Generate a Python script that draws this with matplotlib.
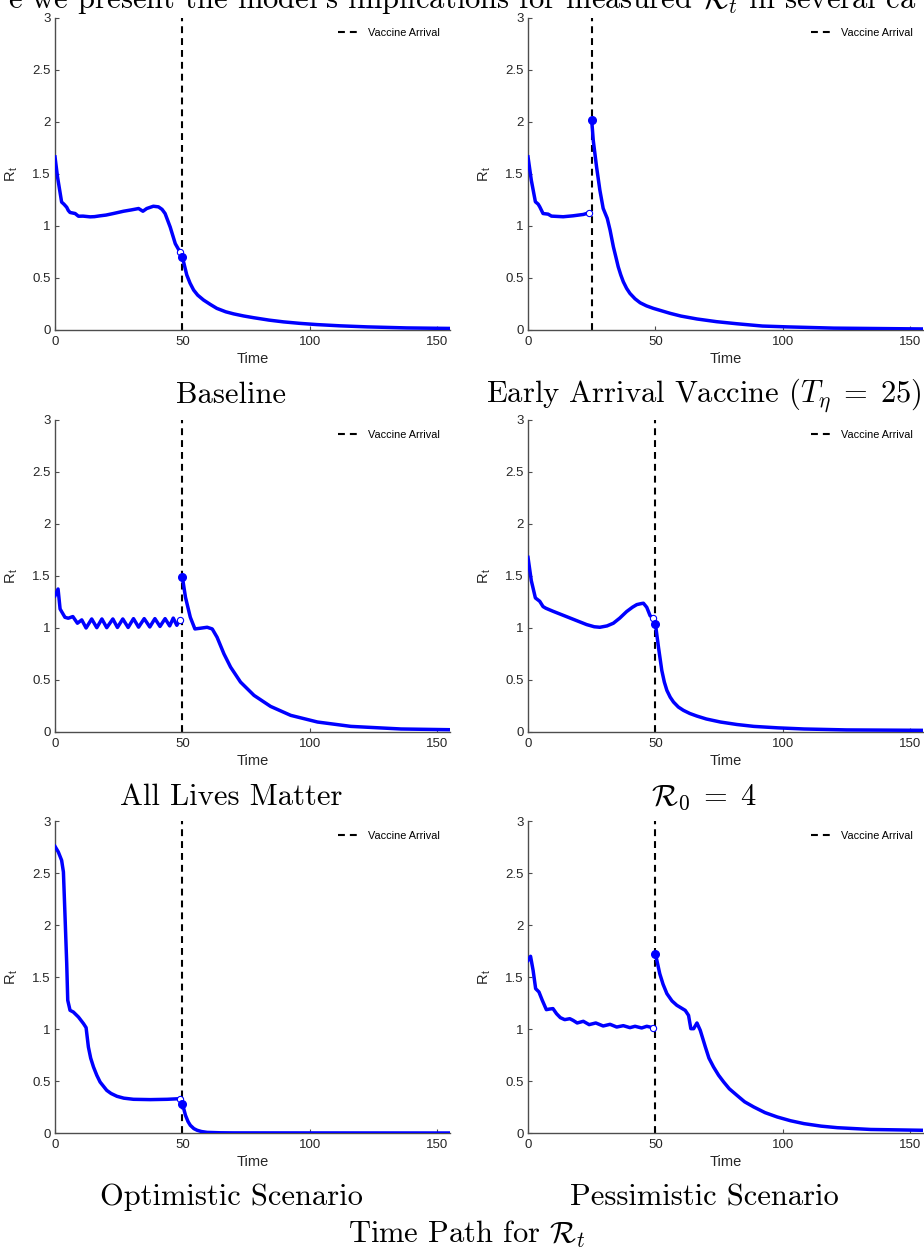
import matplotlib
matplotlib.use("Agg")
import matplotlib.pyplot as plt

plt.rcParams["font.family"] = ["Liberation Sans", "DejaVu Sans"]
plt.rcParams["mathtext.fontset"] = "cm"

# axis ticks
x_ticks = [0, 50, 100, 150]
x_ticklabels = ["0", "50", "100", "150"]
y_ticks = [0, 0.5, 1, 1.5, 2, 2.5, 3]
y_ticklabels = ["0", "0.5", "1", "1.5", "2", "2.5", "3"]

captions = ["Baseline", r"Early Arrival Vaccine ($T_\eta\;=\;25$)", "All Lives Matter",
            r"$\mathcal{R}_0\;=\;4$", "Optimistic Scenario", "Pessimistic Scenario"]
vaccine_arrival = [50, 25, 50, 50, 50, 50]

# Baseline
base_t_pre = [0, 1, 2.6, 3.5, 4.6, 5.2, 5.9, 7.9, 9.2, 11, 13.8, 15.5, 17.7, 20, 22.9, 26.9,
              30, 32.8, 34.5, 36, 38.6, 40.6, 42, 43.2, 45.2, 47.2, 49]
base_r_pre = [1.664, 1.47, 1.23, 1.21, 1.18, 1.15, 1.13, 1.12, 1.094, 1.095, 1.088, 1.09, 1.098,
              1.105, 1.12, 1.142, 1.155, 1.168, 1.142, 1.168, 1.19, 1.184, 1.16, 1.12, 0.99, 0.83, 0.752]
base_t_post = [50, 51.7, 53, 54.4, 56, 58.3, 61, 63.5, 67, 70.1, 74, 78, 84, 89.7, 96, 102.8,
               112, 122.5, 138, 155]
base_r_post = [0.70, 0.53, 0.45, 0.384, 0.335, 0.288, 0.245, 0.208, 0.175, 0.155, 0.135, 0.118,
               0.095, 0.078, 0.064, 0.052, 0.04, 0.03, 0.02, 0.015]

# Early arrival vaccine
early_t_pre = [0, 1.3, 2.9, 4.0, 4.6, 5.9, 7.9, 9.2, 11.5, 13.8, 17.7, 21.7, 24]
early_r_pre = [1.665, 1.44, 1.233, 1.21, 1.185, 1.12, 1.114, 1.095, 1.092, 1.089, 1.098, 1.111, 1.127]
early_t_post = [25, 25.6, 26.9, 28.2, 29.5, 31.1, 32.2, 33.5, 34.5, 35.4, 36.4, 37.4, 38.7, 40, 42,
                44, 46.5, 49.2, 55.8, 60, 66.3, 74, 82, 92, 101.7, 120, 155]
early_r_post = [2.017, 1.825, 1.569, 1.345, 1.169, 1.073, 0.961, 0.80, 0.70, 0.608, 0.53, 0.464,
                0.40, 0.352, 0.30, 0.262, 0.232, 0.208, 0.16, 0.134, 0.106, 0.08, 0.06, 0.038,
                0.03, 0.018, 0.01]

# All lives matter
alm_t_pre = [0, 1.2, 2.0, 3.9, 5.2, 7.0, 8.8, 10.5, 12.2, 14.4, 16.4, 18.4, 20.3, 22.7, 24.5, 26.6,
             28.7, 30.8, 32.8, 35.0, 37.2, 39.2, 41.2, 43.2, 45.0, 46.4, 47.8, 49]
alm_r_pre = [1.31, 1.375, 1.183, 1.103, 1.094, 1.11, 1.046, 1.078, 1.0, 1.087, 1.003, 1.087, 1.003,
             1.087, 1.005, 1.087, 1.005, 1.09, 1.008, 1.09, 1.01, 1.09, 1.015, 1.09, 1.02, 1.095,
             1.026, 1.078]
alm_t_post = [50, 51.2, 53.1, 54.9, 57.1, 59.7, 61.7, 63.6, 66.3, 68.9, 72.8, 78.1, 84.6, 92.5,
              103, 116.1, 135.8, 155]
alm_r_post = [1.487, 1.295, 1.103, 0.991, 0.998, 1.007, 0.991, 0.911, 0.751, 0.624, 0.48, 0.352,
              0.246, 0.16, 0.096, 0.054, 0.029, 0.022]

# R0 = 4
r04_t_pre = [0, 1.3, 2.9, 4.6, 5.9, 7, 9.8, 13, 16.4, 20, 23, 26, 28.2, 31, 33.5, 36, 38.7, 41,
             42.7, 44.5, 45.3, 46.6, 47.9, 49]
r04_r_pre = [1.679, 1.455, 1.289, 1.257, 1.206, 1.19, 1.161, 1.13, 1.097, 1.062, 1.033, 1.012,
             1.007, 1.02, 1.046, 1.095, 1.158, 1.2, 1.225, 1.235, 1.238, 1.199, 1.119, 1.094]
r04_t_post = [50, 51.2, 52.5, 53.5, 54.5, 55.8, 57.1, 59, 61, 63.5, 66.3, 70, 75.5, 82, 88.6, 98,
              108.3, 125, 155]
r04_r_post = [1.039, 0.815, 0.592, 0.48, 0.40, 0.335, 0.288, 0.24, 0.208, 0.178, 0.153, 0.125,
              0.096, 0.072, 0.054, 0.04, 0.029, 0.02, 0.016]

# Optimistic
opt_t_pre = [0, 1.3, 2.6, 3.3, 3.9, 4.6, 5.0, 5.9, 7.2, 9.2, 11.2, 12.2, 13.1, 14, 15.1, 16.4,
             17.7, 20.3, 22, 24.3, 27, 30.8, 37.4, 44, 49]
opt_r_pre = [2.756, 2.702, 2.622, 2.51, 2.109, 1.628, 1.276, 1.18, 1.163, 1.115, 1.051, 1.013,
             0.827, 0.72, 0.635, 0.555, 0.49, 0.41, 0.38, 0.353, 0.335, 0.324, 0.321, 0.324, 0.33]
opt_t_post = [50, 51.2, 52.2, 53.1, 54.5, 55.8, 57.5, 59.7, 65, 70, 155]
opt_r_post = [0.282, 0.17, 0.11, 0.074, 0.042, 0.026, 0.014, 0.006, 0.002, 0.001, 0.0]

# Pessimistic
pes_t_pre = [0, 1.0, 2.0, 3.0, 4.3, 5.6, 7.2, 8.5, 9.8, 11.2, 12.7, 14.4, 16.4, 17.7, 19.3, 21.7,
             24, 26.6, 29.5, 32.2, 34.8, 37.4, 40, 42, 44.6, 46.6, 49]
pes_r_pre = [1.66, 1.699, 1.564, 1.388, 1.356, 1.276, 1.186, 1.192, 1.196, 1.147, 1.109, 1.09,
             1.099, 1.083, 1.058, 1.074, 1.042, 1.058, 1.029, 1.045, 1.019, 1.032, 1.013, 1.026,
             1.01, 1.026, 1.013]
pes_t_post = [50, 51.7, 53, 54.5, 56.5, 58.4, 61.7, 63, 63.9, 65, 66.3, 67.6, 69.6, 71, 72.8, 74.8,
              76.8, 79, 82, 85, 88.6, 93, 97.8, 103, 108.3, 115, 121.4, 134.5, 155]
pes_r_post = [1.724, 1.532, 1.43, 1.34, 1.27, 1.228, 1.179, 1.131, 1.003, 1.003, 1.058, 0.987,
              0.827, 0.72, 0.635, 0.555, 0.49, 0.425, 0.362, 0.30, 0.25, 0.196, 0.154, 0.118,
              0.09, 0.066, 0.051, 0.034, 0.026]

panels = [
    (base_t_pre, base_r_pre, base_t_post, base_r_post),
    (early_t_pre, early_r_pre, early_t_post, early_r_post),
    (alm_t_pre, alm_r_pre, alm_t_post, alm_r_post),
    (r04_t_pre, r04_r_pre, r04_t_post, r04_r_post),
    (opt_t_pre, opt_r_pre, opt_t_post, opt_r_post),
    (pes_t_pre, pes_r_pre, pes_t_post, pes_r_post),
]

W, H = 924, 1252
fig = plt.figure(figsize=(W / 100, H / 100), dpi=100)

col_left = [55, 528]
row_bottom = [330, 732, 1133]
ax_w, ax_h = 395, 312
cap_x = [231, 704]
cap_base = [403, 805, 1205]
spine_col = "#4d4d4d"

for i, (tp, rp, tq, rq) in enumerate(panels):
    r, c = divmod(i, 2)
    ax = fig.add_axes([col_left[c] / W, 1 - row_bottom[r] / H, ax_w / W, ax_h / H])
    ax.axvline(vaccine_arrival[i], color="black", ls="--", lw=1.5, dashes=(3.3, 2.4),
               label="Vaccine Arrival", zorder=2)
    ax.plot(tp, rp, color="blue", lw=2.5, solid_joinstyle="round", zorder=3)
    ax.plot(tq, rq, color="blue", lw=2.5, solid_joinstyle="round", zorder=3)
    ax.plot(tp[-1], rp[-1], "o", mfc="white", mec="blue", ms=4.5, mew=0.8, zorder=4)
    ax.plot(tq[0], rq[0], "o", color="blue", ms=5.5, zorder=4)
    ax.set_xlim(0, 155)
    ax.set_ylim(0, 3)
    ax.set_xticks(x_ticks)
    ax.set_xticklabels(x_ticklabels)
    ax.set_yticks(y_ticks)
    ax.set_yticklabels(y_ticklabels)
    for s in ["top", "right"]:
        ax.spines[s].set_visible(False)
    for s in ["left", "bottom"]:
        ax.spines[s].set_color(spine_col)
        ax.spines[s].set_linewidth(1.0)
    ax.tick_params(direction="in", length=3, width=0.8, colors=spine_col,
                   labelcolor="#262626", labelsize=9.5)
    ax.tick_params(axis="x", pad=4)
    ax.tick_params(axis="y", pad=3)
    ax.set_xlabel("Time", fontsize=10.5, color="#262626")
    ax.set_ylabel(r"R$_\mathregular{t}$", fontsize=10.5, color="#262626")
    ax.xaxis.set_label_coords(0.5, -0.07)
    ax.yaxis.set_label_coords(-0.088, 0.5)
    ax.legend(loc="upper right", frameon=False, fontsize=7.8, handlelength=2.1,
              handletextpad=0.75, borderaxespad=0.5, borderpad=0.4)
    fig.text(cap_x[c] / W, 1 - cap_base[r] / H, captions[i], fontsize=22,
             family="cmr10", ha="center", va="baseline")

fig.text(467 / W, 1 - 1243 / H, r"Time Path for $\mathcal{R}_t$", fontsize=22,
         family="cmr10", ha="center", va="baseline")
fig.text(462 / W, 1 - 8 / H,
         r"e we present the model's implications for measured $\mathcal{R}_t$ in several ca",
         fontsize=22, family="cmr10", ha="center", va="baseline")

fig.savefig("out.png", dpi=100)
